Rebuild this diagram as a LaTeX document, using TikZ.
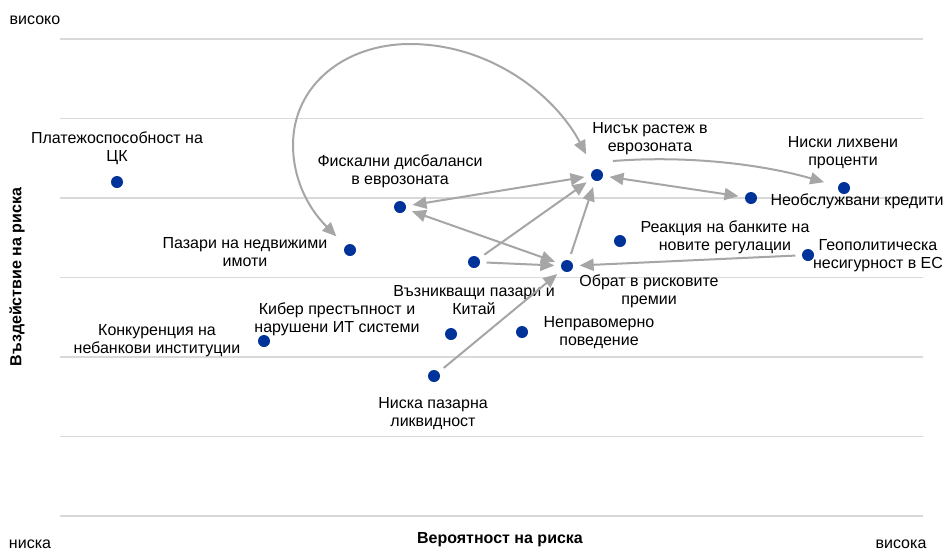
\documentclass[tikz,border=0pt]{standalone}
\usepackage{fontspec}
\setmainfont{Liberation Sans}
\usetikzlibrary{arrows.meta}
\definecolor{dotblue}{RGB}{0,51,153}
\definecolor{linkgray}{RGB}{166,166,166}
\definecolor{gridgray}{RGB}{217,217,217}
\begin{document}
\begin{tikzpicture}[x=0.75pt, y=-0.75pt,
  every node/.style={font=\fontsize{12}{13.5}\selectfont, align=center, inner sep=0pt},
  risk/.style={circle, fill=dotblue, minimum size=9pt, outer sep=5pt},
  link/.style={draw=linkgray, line width=1.5pt, >={Triangle[length=10.5pt,width=9pt]}},
  axislbl/.style={font=\bfseries\fontsize{12}{13.5}\selectfont}]
  \useasboundingbox[fill=white] (0,0) rectangle (945,551);
  % grid lines
  \foreach \g in {39,118.5,198,277.5,357,436.5,516} \draw[gridgray, line width=0.9pt] (60,\g) -- (923,\g);
  % axes
  \node (hi) at (35,20) {високо};
  \node (lo) at (30,544) {ниска};
  \node (hiprob) at (901,544) {висока};
  \node[axislbl] (xlbl) at (500,540) {Вероятност на риска};
  \node[axislbl, rotate=90] (ylbl) at (17,277) {Въздействие на риска};
  % risks
  \node[risk] (ck) at (117,182) {};
  \node[risk] (imoti) at (350,250) {};
  \node[risk] (fisk) at (400,207) {};
  \node[risk] (rastezh) at (597,175) {};
  \node[risk] (vazn) at (474,262) {};
  \node[risk] (obrat) at (567,266) {};
  \node[risk] (reak) at (620,241) {};
  \node[risk] (neobsl) at (751,198) {};
  \node[risk] (lihvi) at (844,188) {};
  \node[risk] (geo) at (808,255) {};
  \node[risk] (konk) at (264,341) {};
  \node[risk] (kiber) at (451,334) {};
  \node[risk] (nepr) at (522,332) {};
  \node[risk] (likv) at (434,376) {};
  % labels
  \node (ck-t) at (117,148) {Платежоспособност на\\ЦК};
  \node (imoti-t) at (245,252) {Пазари на недвижими\\имоти};
  \node (fisk-t) at (400,171) {Фискални дисбаланси\\в еврозоната};
  \node (rastezh-t) at (650,139) {Нисък растеж в\\еврозоната};
  \node (vazn-t) at (474,300) {Възникващи пазари и\\Китай};
  \node (obrat-t) at (649,291) {Обрат в рисковите\\премии};
  \node (reak-t) at (725,237) {Реакция на банките на\\новите регулации};
  \node (neobsl-t) at (857,201) {Необслужвани кредити};
  \node (lihvi-t) at (843,153) {Ниски лихвени\\проценти};
  \node (geo-t) at (878,256) {Геополитическа\\несигурност в ЕС};
  \node (konk-t) at (157,341) {Конкуренция на\\небанкови институции};
  \node (kiber-t) at (337,319) {Кибер престъпност и\\нарушени ИТ системи};
  \node (nepr-t) at (599,333) {Неправомерно\\поведение};
  \node (likv-t) at (433,414) {Ниска пазарна\\ликвидност};
  % links
  \coordinate (rastezh-out) at (613,161);
  \draw[link, <->, shorten <=5pt, shorten >=8pt] (imoti) .. controls (305,205) and (293,175) .. (293,145)
    .. controls (293,85) and (345,44) .. (410,44) .. controls (490,44) and (555,95) .. (rastezh);
  \draw[link, <->] (fisk) -- (rastezh);
  \draw[link, <->] (fisk) -- (obrat);
  \draw[link, ->] (vazn) -- (rastezh);
  \draw[link, ->] (vazn) -- (obrat);
  \draw[link, ->] (obrat) -- (rastezh);
  \draw[link, <->] (rastezh) -- (neobsl);
  \draw[link, ->, shorten >=6pt] (rastezh-out) .. controls (690,155) and (765,165) .. (lihvi);
  \draw[link, ->] (geo) -- (obrat);
  \draw[link, ->] (likv) -- (obrat);
\end{tikzpicture}
\end{document}
